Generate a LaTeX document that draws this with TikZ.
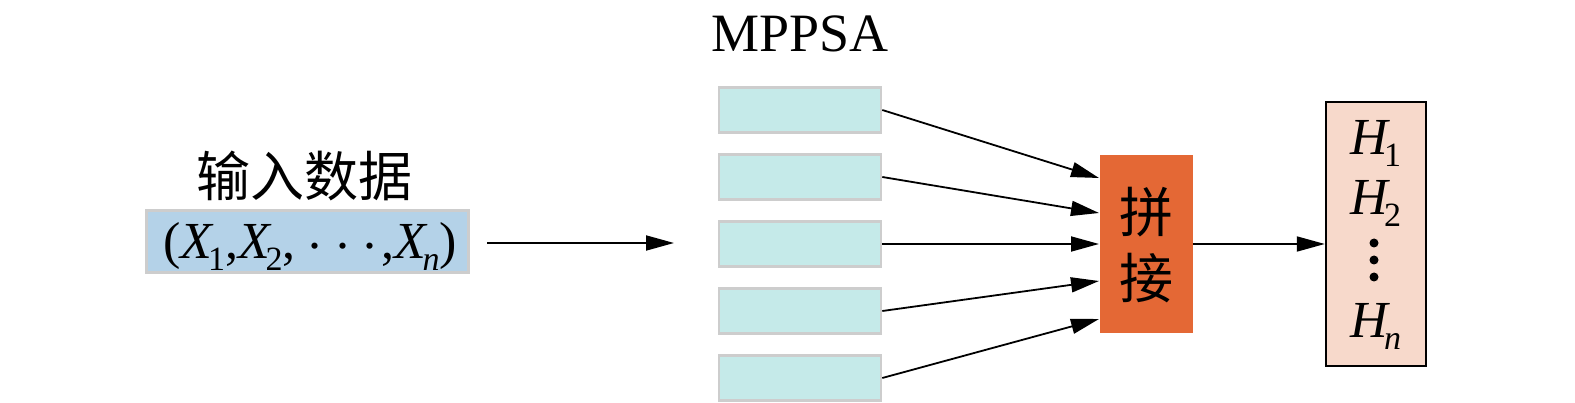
\documentclass[tikz,border=0pt]{standalone}
\usepackage{fontspec}
\setmainfont{Liberation Serif}
\newfontfamily\cjk{Noto Sans CJK SC}
\usetikzlibrary{arrows.meta}
\definecolor{inblue}{HTML}{B4D2E8}
\definecolor{smallc}{HTML}{C5EAE9}
\definecolor{catc}{HTML}{E46835}
\definecolor{outc}{HTML}{F7D9CB}
\definecolor{edgegray}{HTML}{CDCDCD}
\newcommand\bigf{\fontsize{52}{58}\selectfont}
\newcommand\subf{\fontsize{34}{38}\selectfont}
\newcommand\vsub[2]{{\itshape #1}\kern-0.08em\raisebox{-0.22em}{\subf #2}}
\newcommand\mdots{\kern0.25em\raisebox{0.2em}{.\kern0.28em.\kern0.28em.}\kern0.1em}
\begin{document}
\begin{tikzpicture}[x=1pt,y=-1pt,
  arr/.style={line width=1.8pt,-{Triangle[length=28pt,width=15pt]}},
  small/.style={draw=edgegray,line width=2.6pt,fill=smallc,minimum width=162pt,minimum height=45pt,inner sep=0pt,anchor=center},
  lbl/.style={inner sep=0pt,anchor=center}]
\useasboundingbox (0,0) rectangle (1575,403);
% input
\node[draw=edgegray,line width=2.4pt,fill=inblue,minimum width=322pt,minimum height=62pt,inner sep=0pt] (in) at (307.5,241.5) {};
\node[lbl,anchor=base,font=\bigf] (intxt) at (310,259) {(\vsub{X}{1},\vsub{X}{2},\mdots,\vsub{X}{\itshape n})};
\node[lbl,font=\cjk\fontsize{54}{58}\selectfont] (title) at (304,176) {输入数据};
\coordinate (a0) at (487,243);
\coordinate (a1) at (674,243);
\draw[arr] (a0) -- (a1);
% MPPSA
\node[lbl,font=\fontsize{54}{60}\selectfont] (mppsa) at (800,34) {MPPSA};
\node[small] (s1) at (800,110) {};
\node[small] (s2) at (800,177) {};
\node[small] (s3) at (800,244) {};
\node[small] (s4) at (800,311) {};
\node[small] (s5) at (800,378) {};
% concat
\node[fill=catc,minimum width=93pt,minimum height=178pt,inner sep=0pt] (cat) at (1146.5,244) {};
\node[lbl,font=\cjk\fontsize{54}{58}\selectfont] (c1) at (1146,212) {拼};
\node[lbl,font=\cjk\fontsize{54}{58}\selectfont] (c2) at (1146,278) {接};
\coordinate (t1) at (1099,178);
\coordinate (t2) at (1099,213);
\coordinate (t3) at (1099,244);
\coordinate (t4) at (1099,281);
\coordinate (t5) at (1099,319);
\draw[arr] (s1.east) -- (t1);
\draw[arr] (s2.east) -- (t2);
\draw[arr] (s3.east) -- (t3);
\draw[arr] (s4.east) -- (t4);
\draw[arr] (s5.east) -- (t5);
% output
\node[draw=black,line width=2.4pt,fill=outc,minimum width=100pt,minimum height=264pt,inner sep=0pt] (out) at (1376,234) {};
\draw[arr] (cat.east) -- (cat.east -| out.west);
\node[lbl,anchor=base,font=\bigf] (h1) at (1376,155) {\vsub{H}{1}};
\node[lbl,anchor=base,font=\bigf] (h2) at (1376,215) {\vsub{H}{2}};
\node[lbl,anchor=base,font=\bigf] (hn) at (1376,338) {\vsub{H}{\itshape n}};
\fill (1374,243) circle (4.5pt) (1374,260) circle (4.5pt) (1374,277) circle (4.5pt);
\end{tikzpicture}
\end{document}
